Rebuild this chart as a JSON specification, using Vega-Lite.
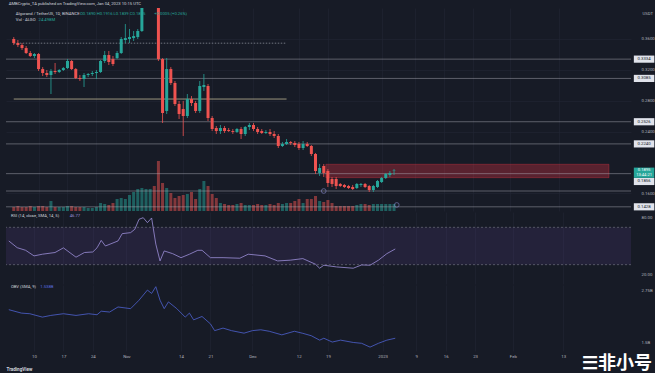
{
"$schema": "https://vega.github.io/schema/vega-lite/v6.json",
"background": "#171b26",
"padding": {"left": 5, "top": 1, "right": 0, "bottom": 0},
"spacing": 1,
"title": {"text": "AMBCrypto_TA published on TradingView.com, Jan 04, 2023 10:15 UTC", "anchor": "start", "fontSize": 4.2, "font": "Roboto", "fontWeight": "normal", "color": "#d1d4dc", "offset": 2, "dx": 3},
"config": {
  "view": {"stroke": null},
  "font": "Roboto",
  "axis": {"labelColor": "#b2b5be", "labelFontSize": 4.3, "labelFont": "Roboto", "gridColor": "#222634", "gridWidth": 0.6, "domain": false, "ticks": false, "labelFlush": false, "labelOverlap": false},
  "text": {"font": "Roboto"}
},
"datasets": {
  "candles": [
{"d":"2022-10-04","o":0.3594,"h":0.3619,"l":0.3516,"c":0.3542,"v":14},
{"d":"2022-10-05","o":0.3542,"h":0.3581,"l":0.349,"c":0.3516,"v":17.5},
{"d":"2022-10-06","o":0.3516,"h":0.3542,"l":0.3452,"c":0.3477,"v":14},
{"d":"2022-10-07","o":0.3477,"h":0.3503,"l":0.34,"c":0.3413,"v":14},
{"d":"2022-10-08","o":0.3413,"h":0.3439,"l":0.3361,"c":0.3374,"v":17.5},
{"d":"2022-10-09","o":0.3374,"h":0.3413,"l":0.3348,"c":0.34,"v":14},
{"d":"2022-10-10","o":0.34,"h":0.3413,"l":0.3181,"c":0.3206,"v":17.5},
{"d":"2022-10-11","o":0.3206,"h":0.3232,"l":0.3116,"c":0.3155,"v":17.5},
{"d":"2022-10-12","o":0.3155,"h":0.3194,"l":0.3103,"c":0.3129,"v":14},
{"d":"2022-10-13","o":0.3129,"h":0.3206,"l":0.2884,"c":0.3181,"v":35},
{"d":"2022-10-14","o":0.3181,"h":0.3284,"l":0.3142,"c":0.3168,"v":14},
{"d":"2022-10-15","o":0.3168,"h":0.3206,"l":0.3155,"c":0.3194,"v":14},
{"d":"2022-10-16","o":0.3194,"h":0.3232,"l":0.3181,"c":0.3219,"v":14},
{"d":"2022-10-17","o":0.3219,"h":0.3335,"l":0.3206,"c":0.331,"v":17.5},
{"d":"2022-10-18","o":0.331,"h":0.3323,"l":0.3194,"c":0.3206,"v":17.5},
{"d":"2022-10-19","o":0.3206,"h":0.3219,"l":0.3077,"c":0.309,"v":14},
{"d":"2022-10-20","o":0.309,"h":0.3129,"l":0.3052,"c":0.3077,"v":14},
{"d":"2022-10-21","o":0.3077,"h":0.3155,"l":0.2974,"c":0.3129,"v":14},
{"d":"2022-10-22","o":0.3129,"h":0.3155,"l":0.3103,"c":0.3142,"v":10.5},
{"d":"2022-10-23","o":0.3142,"h":0.3181,"l":0.3116,"c":0.3155,"v":10.5},
{"d":"2022-10-24","o":0.3155,"h":0.3194,"l":0.3077,"c":0.3168,"v":14},
{"d":"2022-10-25","o":0.3168,"h":0.3323,"l":0.3155,"c":0.331,"v":28},
{"d":"2022-10-26","o":0.331,"h":0.3439,"l":0.3284,"c":0.3387,"v":24.5},
{"d":"2022-10-27","o":0.3387,"h":0.3439,"l":0.3258,"c":0.3297,"v":21},
{"d":"2022-10-28","o":0.3335,"h":0.3374,"l":0.3245,"c":0.3271,"v":28},
{"d":"2022-10-29","o":0.3348,"h":0.3439,"l":0.3335,"c":0.3413,"v":42},
{"d":"2022-10-30","o":0.3413,"h":0.3619,"l":0.34,"c":0.3594,"v":45.5},
{"d":"2022-10-31","o":0.3581,"h":0.3787,"l":0.3542,"c":0.3606,"v":42},
{"d":"2022-11-01","o":0.3594,"h":0.3723,"l":0.3542,"c":0.3619,"v":56},
{"d":"2022-11-02","o":0.3606,"h":0.3697,"l":0.3568,"c":0.3632,"v":66.5},
{"d":"2022-11-03","o":0.3619,"h":0.3723,"l":0.3594,"c":0.3697,"v":77},
{"d":"2022-11-04","o":0.3697,"h":0.41,"l":0.3684,"c":0.402,"v":80.5},
{"d":"2022-11-05","o":0.402,"h":0.425,"l":0.401,"c":0.415,"v":77},
{"d":"2022-11-06","o":0.415,"h":0.43,"l":0.405,"c":0.418,"v":77},
{"d":"2022-11-07","o":0.418,"h":0.425,"l":0.402,"c":0.41,"v":87.5},
{"d":"2022-11-08","o":0.41,"h":0.415,"l":0.331,"c":0.3335,"v":175},
{"d":"2022-11-09","o":0.3335,"h":0.3348,"l":0.251,"c":0.2639,"v":98},
{"d":"2022-11-10","o":0.2665,"h":0.3348,"l":0.2626,"c":0.3206,"v":80.5},
{"d":"2022-11-11","o":0.3206,"h":0.3232,"l":0.3,"c":0.3026,"v":63},
{"d":"2022-11-12","o":0.3026,"h":0.3052,"l":0.2729,"c":0.2755,"v":45.5},
{"d":"2022-11-13","o":0.2755,"h":0.2794,"l":0.2561,"c":0.2626,"v":52.5},
{"d":"2022-11-14","o":0.269,"h":0.2794,"l":0.2342,"c":0.26,"v":56},
{"d":"2022-11-15","o":0.26,"h":0.2884,"l":0.2574,"c":0.2819,"v":59.5},
{"d":"2022-11-16","o":0.2819,"h":0.2858,"l":0.2729,"c":0.2768,"v":66.5},
{"d":"2022-11-17","o":0.2768,"h":0.2794,"l":0.2639,"c":0.2665,"v":42},
{"d":"2022-11-18","o":0.2665,"h":0.3052,"l":0.2639,"c":0.2987,"v":77},
{"d":"2022-11-19","o":0.2974,"h":0.3142,"l":0.2923,"c":0.3,"v":105},
{"d":"2022-11-20","o":0.2987,"h":0.3013,"l":0.2535,"c":0.2574,"v":87.5},
{"d":"2022-11-21","o":0.2574,"h":0.26,"l":0.2406,"c":0.2432,"v":59.5},
{"d":"2022-11-22","o":0.2445,"h":0.2471,"l":0.2368,"c":0.2406,"v":45.5},
{"d":"2022-11-23","o":0.2406,"h":0.2484,"l":0.2368,"c":0.2445,"v":28},
{"d":"2022-11-24","o":0.2445,"h":0.2471,"l":0.2381,"c":0.2406,"v":24.5},
{"d":"2022-11-25","o":0.2419,"h":0.2445,"l":0.2394,"c":0.2406,"v":21},
{"d":"2022-11-26","o":0.2406,"h":0.2432,"l":0.2368,"c":0.2394,"v":21},
{"d":"2022-11-27","o":0.2394,"h":0.2445,"l":0.2381,"c":0.2432,"v":24.5},
{"d":"2022-11-28","o":0.2432,"h":0.2458,"l":0.2303,"c":0.2368,"v":28},
{"d":"2022-11-29","o":0.2368,"h":0.2471,"l":0.2342,"c":0.2458,"v":21},
{"d":"2022-11-30","o":0.2458,"h":0.251,"l":0.2419,"c":0.2484,"v":21},
{"d":"2022-12-01","o":0.2484,"h":0.251,"l":0.2406,"c":0.2432,"v":21},
{"d":"2022-12-02","o":0.2432,"h":0.2458,"l":0.2368,"c":0.2394,"v":24.5},
{"d":"2022-12-03","o":0.2406,"h":0.2432,"l":0.2368,"c":0.2381,"v":21},
{"d":"2022-12-04","o":0.2381,"h":0.2419,"l":0.2368,"c":0.2394,"v":21},
{"d":"2022-12-05","o":0.2394,"h":0.2432,"l":0.2342,"c":0.2368,"v":24.5},
{"d":"2022-12-06","o":0.2368,"h":0.2406,"l":0.2316,"c":0.2342,"v":21},
{"d":"2022-12-07","o":0.2342,"h":0.2368,"l":0.2187,"c":0.2213,"v":28},
{"d":"2022-12-08","o":0.2213,"h":0.2265,"l":0.22,"c":0.2239,"v":24.5},
{"d":"2022-12-09","o":0.2239,"h":0.2303,"l":0.2226,"c":0.2265,"v":28},
{"d":"2022-12-10","o":0.2265,"h":0.2277,"l":0.2226,"c":0.2252,"v":28},
{"d":"2022-12-11","o":0.2252,"h":0.2277,"l":0.22,"c":0.2226,"v":35},
{"d":"2022-12-12","o":0.2239,"h":0.2265,"l":0.2161,"c":0.2187,"v":42},
{"d":"2022-12-13","o":0.2187,"h":0.2277,"l":0.2161,"c":0.2239,"v":28},
{"d":"2022-12-14","o":0.2239,"h":0.2265,"l":0.22,"c":0.2213,"v":42},
{"d":"2022-12-15","o":0.2213,"h":0.2226,"l":0.2084,"c":0.211,"v":42},
{"d":"2022-12-16","o":0.211,"h":0.2123,"l":0.1852,"c":0.189,"v":52.5},
{"d":"2022-12-17","o":0.1865,"h":0.1981,"l":0.1826,"c":0.1929,"v":35},
{"d":"2022-12-18","o":0.1955,"h":0.1981,"l":0.1813,"c":0.1865,"v":31.5},
{"d":"2022-12-19","o":0.189,"h":0.1916,"l":0.1684,"c":0.1735,"v":38.5},
{"d":"2022-12-20","o":0.1787,"h":0.1813,"l":0.1684,"c":0.1723,"v":28},
{"d":"2022-12-21","o":0.1787,"h":0.1813,"l":0.1658,"c":0.1697,"v":17.5},
{"d":"2022-12-22","o":0.1723,"h":0.1735,"l":0.1684,"c":0.1697,"v":17.5},
{"d":"2022-12-23","o":0.171,"h":0.1723,"l":0.1671,"c":0.1684,"v":17.5},
{"d":"2022-12-24","o":0.1697,"h":0.171,"l":0.1658,"c":0.1671,"v":17.5},
{"d":"2022-12-25","o":0.1684,"h":0.171,"l":0.1645,"c":0.1658,"v":17.5},
{"d":"2022-12-26","o":0.1671,"h":0.1735,"l":0.1658,"c":0.1723,"v":21},
{"d":"2022-12-27","o":0.171,"h":0.1735,"l":0.1684,"c":0.1723,"v":24.5},
{"d":"2022-12-28","o":0.1723,"h":0.1735,"l":0.1671,"c":0.1684,"v":24.5},
{"d":"2022-12-29","o":0.1697,"h":0.171,"l":0.1619,"c":0.1645,"v":21},
{"d":"2022-12-30","o":0.1645,"h":0.171,"l":0.1619,"c":0.1697,"v":24.5},
{"d":"2022-12-31","o":0.1684,"h":0.1774,"l":0.1671,"c":0.1761,"v":24.5},
{"d":"2023-01-01","o":0.1748,"h":0.1813,"l":0.1735,"c":0.18,"v":24.5},
{"d":"2023-01-02","o":0.18,"h":0.1865,"l":0.1787,"c":0.1852,"v":24.5},
{"d":"2023-01-03","o":0.1839,"h":0.189,"l":0.1813,"c":0.1865,"v":24.5},
{"d":"2023-01-04","o":0.189,"h":0.1916,"l":0.1839,"c":0.1895,"v":24.5}
  ],
  "rsi": [
{"d":"2022-10-04","rsi":55.4},{"d":"2022-10-06","rsi":48.2},{"d":"2022-10-08","rsi":45.4},{"d":"2022-10-10","rsi":39.4},{"d":"2022-10-12","rsi":41.2},{"d":"2022-10-15","rsi":43},{"d":"2022-10-17","rsi":48},{"d":"2022-10-20","rsi":38},{"d":"2022-10-22","rsi":43},{"d":"2022-10-24","rsi":43.6},{"d":"2022-10-25","rsi":48},{"d":"2022-10-26","rsi":56},{"d":"2022-10-27","rsi":50},{"d":"2022-10-30","rsi":55.4},{"d":"2022-10-31","rsi":63.2},{"d":"2022-11-02","rsi":64.3},{"d":"2022-11-03","rsi":67.9},{"d":"2022-11-04","rsi":78.6},{"d":"2022-11-05","rsi":80.3},{"d":"2022-11-06","rsi":75},{"d":"2022-11-07","rsi":80},{"d":"2022-11-08","rsi":52},{"d":"2022-11-09","rsi":34},{"d":"2022-11-10","rsi":44.7},{"d":"2022-11-12","rsi":41.8},{"d":"2022-11-14","rsi":37.5},{"d":"2022-11-16","rsi":41.2},{"d":"2022-11-18","rsi":45.4},{"d":"2022-11-19","rsi":45.4},{"d":"2022-11-21","rsi":37.5},{"d":"2022-11-24","rsi":37.5},{"d":"2022-11-28","rsi":36.9},{"d":"2022-11-30","rsi":41.2},{"d":"2022-12-04","rsi":39.4},{"d":"2022-12-07","rsi":34},{"d":"2022-12-10","rsi":34.8},{"d":"2022-12-13","rsi":36.5},{"d":"2022-12-16","rsi":30.5},{"d":"2022-12-17","rsi":26.2},{"d":"2022-12-18","rsi":29.4},{"d":"2022-12-21","rsi":27.6},{"d":"2022-12-25","rsi":26.2},{"d":"2022-12-27","rsi":29.7},{"d":"2022-12-29","rsi":29.4},{"d":"2022-12-31","rsi":34.8},{"d":"2023-01-02","rsi":41.8},{"d":"2023-01-04","rsi":46.8}
  ],
  "obv": [
{"d":"2022-10-04","obv":2.286},{"d":"2022-10-07","obv":2.205},{"d":"2022-10-09","obv":2.19},{"d":"2022-10-12","obv":2.11},{"d":"2022-10-14","obv":2.15},{"d":"2022-10-17","obv":2.19},{"d":"2022-10-20","obv":2.15},{"d":"2022-10-23","obv":2.19},{"d":"2022-10-25","obv":2.166},{"d":"2022-10-26","obv":2.25},{"d":"2022-10-28","obv":2.23},{"d":"2022-10-30","obv":2.35},{"d":"2022-11-02","obv":2.31},{"d":"2022-11-04","obv":2.51},{"d":"2022-11-06","obv":2.75},{"d":"2022-11-07","obv":2.67},{"d":"2022-11-08","obv":2.83},{"d":"2022-11-09","obv":2.51},{"d":"2022-11-10","obv":2.31},{"d":"2022-11-11","obv":2.47},{"d":"2022-11-13","obv":2.31},{"d":"2022-11-15","obv":2.11},{"d":"2022-11-16","obv":2.205},{"d":"2022-11-17","obv":2.045},{"d":"2022-11-19","obv":2.125},{"d":"2022-11-21","obv":1.95},{"d":"2022-11-22","obv":1.79},{"d":"2022-11-24","obv":1.85},{"d":"2022-11-26","obv":1.79},{"d":"2022-11-29","obv":1.73},{"d":"2022-12-01","obv":1.79},{"d":"2022-12-03","obv":1.81},{"d":"2022-12-05","obv":1.775},{"d":"2022-12-08","obv":1.69},{"d":"2022-12-11","obv":1.775},{"d":"2022-12-13","obv":1.726},{"d":"2022-12-15","obv":1.67},{"d":"2022-12-17","obv":1.565},{"d":"2022-12-18","obv":1.61},{"d":"2022-12-20","obv":1.52},{"d":"2022-12-22","obv":1.565},{"d":"2022-12-25","obv":1.51},{"d":"2022-12-27","obv":1.49},{"d":"2022-12-29","obv":1.4},{"d":"2022-12-31","obv":1.49},{"d":"2023-01-02","obv":1.565},{"d":"2023-01-04","obv":1.61}
  ]
},
"vconcat": [
  {
    "width": 625, "height": 203,
    "layer": [
      {
        "data": {"name": "candles"},
        "mark": {"type": "bar", "size": 3, "opacity": 0.5},
        "encoding": {
          "x": {"field": "d", "type": "temporal", "scale": {"type": "utc", "nice": false, "domain": [{"year": 2022, "month": 10, "date": 3, "hours": 8, "utc": true}, {"year": 2023, "month": 3, "date": 1, "hours": 3, "utc": true}]},
                "axis": {"values": [{"year":2022,"month":10,"date":10,"utc":true},{"year":2022,"month":10,"date":17,"utc":true},{"year":2022,"month":10,"date":24,"utc":true},{"year":2022,"month":11,"date":1,"utc":true},{"year":2022,"month":11,"date":14,"utc":true},{"year":2022,"month":11,"date":21,"utc":true},{"year":2022,"month":12,"date":1,"utc":true},{"year":2022,"month":12,"date":12,"utc":true},{"year":2022,"month":12,"date":19,"utc":true},{"year":2023,"month":1,"date":1,"utc":true},{"year":2023,"month":1,"date":9,"utc":true},{"year":2023,"month":1,"date":16,"utc":true},{"year":2023,"month":1,"date":23,"utc":true},{"year":2023,"month":2,"date":1,"utc":true},{"year":2023,"month":2,"date":13,"utc":true}], "labels": false, "grid": true, "title": null}},
          "y": {"field": "v", "type": "quantitative", "scale": {"domain": [0, 710], "nice": false, "zero": true}, "axis": null},
          "color": {"condition": {"test": "datum.c >= datum.o", "value": "#26a69a"}, "value": "#ef5350"}
        }
      },
      {
        "layer": [
          {
            "data": {"values": [{"s": "2022-12-18T12:00:00Z", "e": "2023-02-25T00:00:00Z", "lo": 0.1804, "hi": 0.1977}]},
            "mark": {"type": "rect", "fill": "#f23645", "fillOpacity": 0.3, "stroke": "#f23645", "strokeOpacity": 0.45, "strokeWidth": 0.7},
            "encoding": {
              "x": {"field": "s", "type": "temporal", "scale": {"type": "utc", "nice": false, "domain": [{"year": 2022, "month": 10, "date": 3, "hours": 8, "utc": true}, {"year": 2023, "month": 3, "date": 1, "hours": 3, "utc": true}]}},
              "x2": {"field": "e"},
              "y": {"field": "lo", "type": "quantitative", "scale": {"domain": [0.1374, 0.3994], "nice": false, "zero": false},
                    "axis": {"orient": "right", "values": [0.16, 0.2, 0.24, 0.26, 0.28, 0.3, 0.32, 0.34, 0.36, 0.38], "format": ".4f", "labelPadding": 10, "labelOverlap": false, "grid": true, "title": "USDT", "titleAngle": 0, "titleX": 11, "titleY": 5, "titleFontSize": 4.3, "titleColor": "#b2b5be", "titleFontWeight": "normal", "titleAlign": "left", "titleBaseline": "middle"}},
              "y2": {"field": "hi"}
            }
          },
          {
            "data": {"values": [{"p": 0.3334}, {"p": 0.3085}, {"p": 0.2526}, {"p": 0.224}, {"p": 0.1856}, {"p": 0.1632}, {"p": 0.1428}]},
            "mark": {"type": "rule", "color": "#b2b5be", "strokeWidth": 0.6, "opacity": 0.75},
            "encoding": {"y": {"field": "p", "type": "quantitative"}}
          },
          {
            "data": {"values": [{"s": "2022-10-04", "e": "2022-12-09", "p": 0.354}]},
            "mark": {"type": "rule", "color": "#b2b5be", "strokeWidth": 0.7, "strokeDash": [1.5, 1.5], "opacity": 0.85},
            "encoding": {"x": {"field": "s", "type": "temporal"}, "x2": {"field": "e"}, "y": {"field": "p", "type": "quantitative"}}
          },
          {
            "data": {"values": [{"s": "2022-10-04", "e": "2022-12-09", "p": 0.2819}]},
            "mark": {"type": "rule", "color": "#cfc6a0", "strokeWidth": 0.8, "opacity": 0.9},
            "encoding": {"x": {"field": "s", "type": "temporal"}, "x2": {"field": "e"}, "y": {"field": "p", "type": "quantitative"}}
          },
          {
            "data": {"name": "candles"},
            "mark": {"type": "rule", "strokeWidth": 0.8, "clip": true},
            "encoding": {
              "x": {"field": "d", "type": "temporal"},
              "y": {"field": "l", "type": "quantitative"},
              "y2": {"field": "h"},
              "color": {"condition": {"test": "datum.c >= datum.o", "value": "#26a69a"}, "value": "#ef5350"}
            }
          },
          {
            "data": {"name": "candles"},
            "mark": {"type": "bar", "size": 3, "clip": true},
            "encoding": {
              "x": {"field": "d", "type": "temporal"},
              "y": {"field": "o", "type": "quantitative"},
              "y2": {"field": "c"},
              "color": {"condition": {"test": "datum.c >= datum.o", "value": "#26a69a"}, "value": "#ef5350"}
            }
          },
          {
            "data": {"values": [{"d": "2022-12-18T00:00:00Z", "p": 0.1632}, {"d": "2023-01-04T16:00:00Z", "p": 0.1452}]},
            "mark": {"type": "point", "shape": "circle", "size": 22, "filled": false, "color": "#8f93d9", "strokeWidth": 0.8},
            "encoding": {"x": {"field": "d", "type": "temporal"}, "y": {"field": "p", "type": "quantitative"}}
          },
          {
            "data": {"values": [{"d": "2022-10-04T12:00:00Z", "p": 0.3916, "t": "Algorand / TetherUS, 1D, BINANCE"}, {"d": "2022-10-04T12:00:00Z", "p": 0.3839, "t": "Vol · ALGO"}]},
            "mark": {"type": "text", "align": "left", "baseline": "middle", "fontSize": 4.2, "color": "#d1d4dc"},
            "encoding": {"x": {"field": "d", "type": "temporal"}, "y": {"field": "p", "type": "quantitative"}, "text": {"field": "t"}}
          },
          {
            "data": {"values": [{"d": "2022-10-20T00:00:00Z", "p": 0.3916, "t": "O0.1890 H0.1916 L0.1839 C0.1895"}, {"d": "2022-11-07T00:00:00Z", "p": 0.3916, "t": "+0.0005 (+0.26%)"}, {"d": "2022-10-10T00:00:00Z", "p": 0.3839, "t": "24.498M"}]},
            "mark": {"type": "text", "align": "left", "baseline": "middle", "fontSize": 4.2, "color": "#26a69a"},
            "encoding": {"x": {"field": "d", "type": "temporal"}, "y": {"field": "p", "type": "quantitative"}, "text": {"field": "t"}}
          },
          {
            "data": {"values": [{"p": 0.3334, "t": "0.3334"}, {"p": 0.3085, "t": "0.3085"}, {"p": 0.2526, "t": "0.2526"}, {"p": 0.224, "t": "0.2240"}, {"p": 0.1755, "t": "0.1856"}, {"p": 0.1428, "t": "0.1428"}]},
            "layer": [
              {
                "mark": {"type": "point", "shape": "M-1,-0.35L1,-0.35L1,0.35L-1,0.35Z", "filled": true, "color": "#e0e3eb", "opacity": 1, "size": 420, "strokeWidth": 0},
                "encoding": {"x": {"datum": {"year": 2023, "month": 3, "date": 5, "hours": 12, "utc": true}, "type": "temporal"}, "y": {"field": "p", "type": "quantitative"}}
              },
              {
                "mark": {"type": "text", "fontSize": 4.3, "color": "#131722", "align": "center", "baseline": "middle"},
                "encoding": {"x": {"datum": {"year": 2023, "month": 3, "date": 5, "hours": 12, "utc": true}, "type": "temporal"}, "y": {"field": "p", "type": "quantitative"}, "text": {"field": "t"}}
              }
            ]
          },
          {
            "data": {"values": [{"p": 0.1868}]},
            "mark": {"type": "point", "shape": "M-1,-0.5L1,-0.5L1,0.5L-1,0.5Z", "filled": true, "color": "#26a69a", "opacity": 1, "size": 420, "strokeWidth": 0},
            "encoding": {"x": {"datum": {"year": 2023, "month": 3, "date": 5, "hours": 12, "utc": true}, "type": "temporal"}, "y": {"field": "p", "type": "quantitative"}}
          },
          {
            "data": {"values": [{"p": 0.1900, "t": "0.1895"}, {"p": 0.1833, "t": "13:44:21"}]},
            "mark": {"type": "text", "fontSize": 4.1, "color": "#ffffff", "align": "center", "baseline": "middle"},
            "encoding": {"x": {"datum": {"year": 2023, "month": 3, "date": 5, "hours": 12, "utc": true}, "type": "temporal"}, "y": {"field": "p", "type": "quantitative"}, "text": {"field": "t"}}
          }
        ]
      }
    ],
    "resolve": {"scale": {"y": "independent"}}
  },
  {
    "width": 625, "height": 72,
    "layer": [
      {
        "data": {"values": [{"lo": 30, "hi": 70}]},
        "mark": {"type": "rect", "color": "#7e57c2", "opacity": 0.13},
        "encoding": {
          "y": {"field": "lo", "type": "quantitative", "scale": {"domain": [9.3, 86.4], "nice": false, "zero": false}, "axis": {"orient": "right", "values": [20, 40, 60, 80], "format": ".2f", "labelPadding": 10, "labelOverlap": false, "title": null, "grid": false}},
          "y2": {"field": "hi"}
        }
      },
      {
        "data": {"values": [{"lvl": 70}, {"lvl": 30}]},
        "mark": {"type": "rule", "color": "#787b86", "strokeWidth": 0.6, "strokeDash": [2, 2]},
        "encoding": {"y": {"field": "lvl", "type": "quantitative"}}
      },
      {
        "data": {"name": "rsi"},
        "mark": {"type": "line", "color": "#9d8fd9", "strokeWidth": 0.8},
        "encoding": {
          "x": {"field": "d", "type": "temporal", "scale": {"type": "utc", "nice": false, "domain": [{"year": 2022, "month": 10, "date": 3, "hours": 8, "utc": true}, {"year": 2023, "month": 3, "date": 1, "hours": 3, "utc": true}]},
                "axis": {"values": [{"year":2022,"month":10,"date":10,"utc":true},{"year":2022,"month":10,"date":17,"utc":true},{"year":2022,"month":10,"date":24,"utc":true},{"year":2022,"month":11,"date":1,"utc":true},{"year":2022,"month":11,"date":14,"utc":true},{"year":2022,"month":11,"date":21,"utc":true},{"year":2022,"month":12,"date":1,"utc":true},{"year":2022,"month":12,"date":12,"utc":true},{"year":2022,"month":12,"date":19,"utc":true},{"year":2023,"month":1,"date":1,"utc":true},{"year":2023,"month":1,"date":9,"utc":true},{"year":2023,"month":1,"date":16,"utc":true},{"year":2023,"month":1,"date":23,"utc":true},{"year":2023,"month":2,"date":1,"utc":true},{"year":2023,"month":2,"date":13,"utc":true}], "labels": false, "grid": true, "title": null}},
          "y": {"field": "rsi", "type": "quantitative"}
        }
      },
      {
        "data": {"values": [{"d": "2022-10-04T12:00:00Z", "r": 82.5, "t": "RSI (14, close, SMA, 14, 5)"}]},
        "mark": {"type": "text", "align": "left", "baseline": "middle", "fontSize": 4.2, "color": "#d1d4dc"},
        "encoding": {"x": {"field": "d", "type": "temporal"}, "y": {"field": "r", "type": "quantitative"}, "text": {"field": "t"}}
      },
      {
        "data": {"values": [{"d": "2022-10-18T12:00:00Z", "r": 82.5, "t": "46.77"}]},
        "mark": {"type": "text", "align": "left", "baseline": "middle", "fontSize": 4.2, "color": "#9d8fd9"},
        "encoding": {"x": {"field": "d", "type": "temporal"}, "y": {"field": "r", "type": "quantitative"}, "text": {"field": "t"}}
      }
    ]
  },
  {
    "width": 625, "height": 66,
    "title": {"text": "☰非小号", "orient": "bottom", "anchor": "end", "frame": "bounds", "fontSize": 18, "font": "Noto Sans CJK SC", "fontWeight": "bold", "color": "#ffffff", "offset": -16, "dx": 0},
    "layer": [
      {
        "data": {"name": "obv"},
        "mark": {"type": "line", "color": "#4e62d0", "strokeWidth": 0.8},
        "encoding": {
          "x": {"field": "d", "type": "temporal", "scale": {"type": "utc", "nice": false, "domain": [{"year": 2022, "month": 10, "date": 3, "hours": 8, "utc": true}, {"year": 2023, "month": 3, "date": 1, "hours": 3, "utc": true}]},
                "axis": {"values": [{"year":2022,"month":10,"date":10,"utc":true},{"year":2022,"month":10,"date":17,"utc":true},{"year":2022,"month":10,"date":24,"utc":true},{"year":2022,"month":11,"date":1,"utc":true},{"year":2022,"month":11,"date":14,"utc":true},{"year":2022,"month":11,"date":21,"utc":true},{"year":2022,"month":12,"date":1,"utc":true},{"year":2022,"month":12,"date":12,"utc":true},{"year":2022,"month":12,"date":19,"utc":true},{"year":2023,"month":1,"date":1,"utc":true},{"year":2023,"month":1,"date":9,"utc":true},{"year":2023,"month":1,"date":16,"utc":true},{"year":2023,"month":1,"date":23,"utc":true},{"year":2023,"month":2,"date":1,"utc":true},{"year":2023,"month":2,"date":13,"utc":true}],
                         "labelExpr": "utcdate(datum.value) == 1 ? (utcmonth(datum.value) == 0 ? utcFormat(datum.value, '%Y') : utcFormat(datum.value, '%b')) : utcFormat(datum.value, '%-d')",
                         "labelOverlap": false, "grid": true, "labelPadding": 3, "title": "TradingView", "titleAnchor": "start", "titleAlign": "left", "titleFontSize": 4.6, "titleFontWeight": "bold", "titleColor": "#d1d4dc", "titlePadding": 8}},
          "y": {"field": "obv", "type": "quantitative", "scale": {"domain": [1.308, 2.87], "nice": false, "zero": false},
                "axis": {"orient": "right", "values": [1.5, 1.75, 2, 2.25, 2.5, 2.75], "labelExpr": "format(datum.value, '.3~g') + 'B'", "labelPadding": 10, "labelOverlap": false, "title": null, "grid": false}}
        }
      },
      {
        "data": {"values": [{"d": "2022-10-04T12:00:00Z", "v": 2.82, "t": "OBV (SMA, 9)"}]},
        "mark": {"type": "text", "align": "left", "baseline": "middle", "fontSize": 4.2, "color": "#d1d4dc"},
        "encoding": {"x": {"field": "d", "type": "temporal"}, "y": {"field": "v", "type": "quantitative"}, "text": {"field": "t"}}
      },
      {
        "data": {"values": [{"d": "2022-10-11T12:00:00Z", "v": 2.82, "t": "1.538B"}]},
        "mark": {"type": "text", "align": "left", "baseline": "middle", "fontSize": 4.2, "color": "#5b6ee0"},
        "encoding": {"x": {"field": "d", "type": "temporal"}, "y": {"field": "v", "type": "quantitative"}, "text": {"field": "t"}}
      }
    ]
  }
]
}
